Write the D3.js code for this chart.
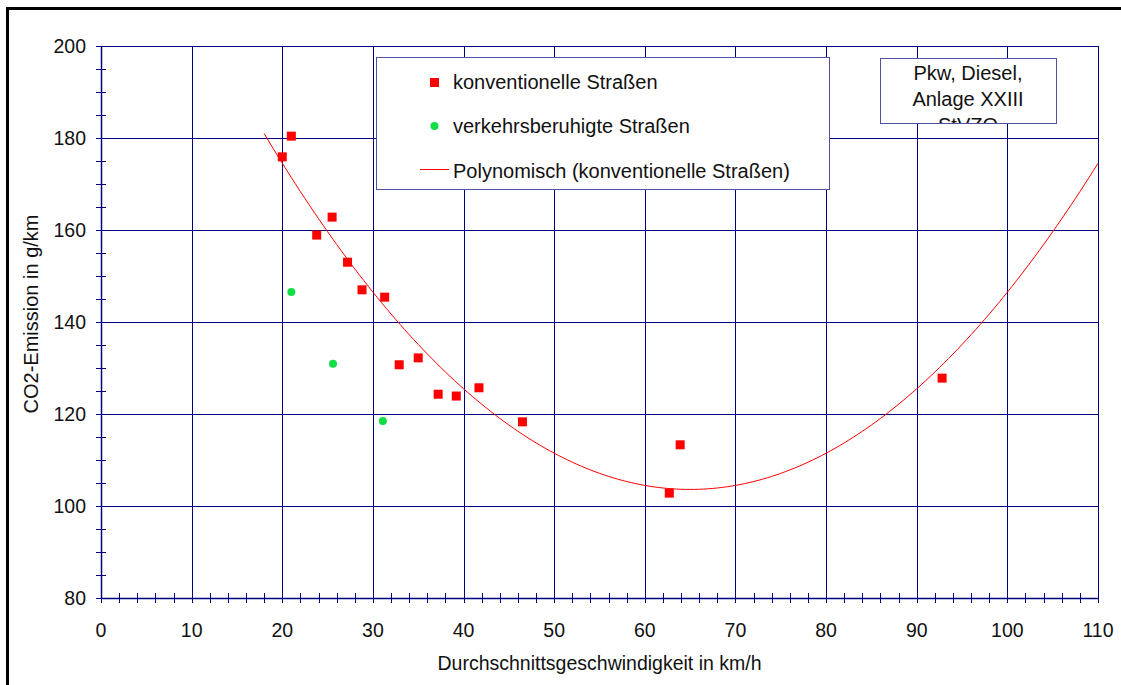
<!DOCTYPE html>
<html>
<head>
<meta charset="utf-8">
<script src="https://cdn.jsdelivr.net/npm/d3@7"></script>
<style>
  html, body { margin: 0; padding: 0; background: #fff; }
  svg { display: block; font-family: "Liberation Sans", Arial, sans-serif; }
</style>
</head>
<body>
<svg id="chart" width="1121" height="685"></svg>
<script>
// ---- data ----
const convX = [20.0, 21.0, 23.8, 25.5, 27.2, 28.8, 31.3, 32.9, 35.0, 37.2, 39.2, 41.7, 46.5, 62.7, 63.9, 92.8];
const convY = [175.9, 180.4, 158.9, 162.8, 153.0, 147.0, 145.4, 130.7, 132.2, 124.3, 123.9, 125.7, 118.3, 102.8, 113.3, 127.8];
const calmX = [21.0, 25.6, 31.1];
const calmY = [146.5, 130.9, 118.5];
const xTicks = [0, 10, 20, 30, 40, 50, 60, 70, 80, 90, 100, 110];
const yTicks = [80, 100, 120, 140, 160, 180, 200];
const trendRange = [18, 110];
const seriesNames = ["konventionelle Straßen", "verkehrsberuhigte Straßen", "Polynomisch (konventionelle Straßen)"];
const noteLines = ["Pkw, Diesel,", "Anlage XXIII", "StVZO"];
const xTitle = "Durchschnittsgeschwindigkeit in km/h";
const yTitle = "CO2-Emission in g/km";

// ---- layout ----
const L = 101, R = 1098, T = 46, B = 598;
const navy = "#000080";
const txt = "#111";
const svg = d3.select("#chart");
const x = d3.scaleLinear().domain([0, 110]).range([L, R]);
const y = d3.scaleLinear().domain([80, 200]).range([B, T]);
const px = v => Math.round(v) + 0.5;

// frame
svg.append("line").attr("x1", 6).attr("x2", 1121).attr("y1", 8.5).attr("y2", 8.5)
  .attr("stroke", "#000").attr("stroke-width", 3);
svg.append("line").attr("x1", 7.5).attr("x2", 7.5).attr("y1", 7).attr("y2", 685)
  .attr("stroke", "#000").attr("stroke-width", 3);

// grid
const g = svg.append("g");
g.selectAll(".vg").data(xTicks).join("line")
  .attr("x1", d => px(x(d))).attr("x2", d => px(x(d)))
  .attr("y1", T).attr("y2", B).attr("stroke", navy).attr("stroke-width", 1);
g.selectAll(".hg").data(yTicks).join("line")
  .attr("y1", d => px(y(d))).attr("y2", d => px(y(d)))
  .attr("x1", L).attr("x2", R).attr("stroke", navy).attr("stroke-width", 1);

// axes with minor ticks
const xMinor = d3.range(0, 110.01, 2);
const yMinor = d3.range(80, 200.01, 5);
g.selectAll(".xt").data(xMinor).join("line")
  .attr("x1", d => px(x(d))).attr("x2", d => px(x(d)))
  .attr("y1", B - 5).attr("y2", B + 5).attr("stroke", navy);
g.selectAll(".yt").data(yMinor).join("line")
  .attr("y1", d => px(y(d))).attr("y2", d => px(y(d)))
  .attr("x1", L - 5).attr("x2", L + 5).attr("stroke", navy);
g.append("line").attr("x1", L).attr("x2", R).attr("y1", px(y(80))).attr("y2", px(y(80))).attr("stroke", navy).attr("stroke-width", 1.5);
g.append("line").attr("x1", px(x(0))).attr("x2", px(x(0))).attr("y1", T).attr("y2", B).attr("stroke", navy).attr("stroke-width", 1.5);

// tick labels
svg.selectAll(".xl").data(xTicks).join("text")
  .attr("x", d => x(d)).attr("y", 637).attr("text-anchor", "middle")
  .attr("font-size", 19.5).attr("fill", txt).text(d => d);
svg.selectAll(".yl").data(yTicks).join("text")
  .attr("x", 86).attr("y", d => y(d) + 7).attr("text-anchor", "end")
  .attr("font-size", 19.5).attr("fill", txt).text(d => d);

// titles
svg.append("text").attr("x", (L + R) / 2).attr("y", 670).attr("text-anchor", "middle")
  .attr("font-size", 19.5).attr("fill", txt).text(xTitle);
svg.append("text").attr("transform", `translate(38,314) rotate(-90)`)
  .attr("text-anchor", "middle").attr("font-size", 20)
  .attr("fill", txt).text(yTitle);

// polynomial (2nd order) least-squares fit of conventional data
function polyfit2(xs, ys) {
  const n = xs.length;
  let s = [0, 0, 0, 0, 0], t = [0, 0, 0];
  for (let i = 0; i < n; i++) {
    for (let k = 0; k < 5; k++) s[k] += Math.pow(xs[i], k);
    for (let k = 0; k < 3; k++) t[k] += ys[i] * Math.pow(xs[i], k);
  }
  const M = [[s[0], s[1], s[2], t[0]], [s[1], s[2], s[3], t[1]], [s[2], s[3], s[4], t[2]]];
  for (let c = 0; c < 3; c++) {
    for (let r = c + 1; r < 3; r++) {
      const f = M[r][c] / M[c][c];
      for (let k = c; k < 4; k++) M[r][k] -= f * M[c][k];
    }
  }
  const a = [0, 0, 0];
  for (let r = 2; r >= 0; r--) {
    let v = M[r][3];
    for (let k = r + 1; k < 3; k++) v -= M[r][k] * a[k];
    a[r] = v / M[r][r];
  }
  return a;
}
const coef = polyfit2(convX, convY);
const trendX = d3.range(trendRange[0], trendRange[1] + 0.001, 0.5);
const line = d3.line().x(d => x(d)).y(d => y(coef[0] + coef[1] * d + coef[2] * d * d)).curve(d3.curveLinear);
svg.append("path").datum(trendX).attr("d", line).attr("fill", "none")
  .attr("stroke", "#ff0000").attr("stroke-width", 1);

// points
const conv = convX.map((v, i) => [v, convY[i]]);
const calm = calmX.map((v, i) => [v, calmY[i]]);
svg.selectAll(".cv").data(conv).join("rect")
  .attr("x", d => x(d[0]) - 4.5).attr("y", d => y(d[1]) - 4.5)
  .attr("width", 9).attr("height", 9).attr("fill", "#ff0000");
svg.selectAll(".cl").data(calm).join("circle")
  .attr("cx", d => x(d[0])).attr("cy", d => y(d[1])).attr("r", 4).attr("fill", "#11dd44");

// legend
const lg = svg.append("g");
lg.append("rect").attr("x", 376.5).attr("y", 57.5).attr("width", 453).attr("height", 132)
  .attr("fill", "#fff").attr("stroke", "#5050a0").attr("stroke-width", 1);
lg.append("rect").attr("x", 430).attr("y", 78).attr("width", 9).attr("height", 9).attr("fill", "#ff0000");
lg.append("circle").attr("cx", 434.5).attr("cy", 126).attr("r", 4).attr("fill", "#11dd44");
lg.append("line").attr("x1", 420).attr("x2", 449).attr("y1", 169.5).attr("y2", 169.5).attr("stroke", "#ff0000");
const ly = [89, 133, 178];
seriesNames.forEach((s, i) => {
  lg.append("text").attr("x", 453).attr("y", ly[i]).attr("font-size", 20).attr("fill", txt).text(s);
});

// note box (text clipped at bottom)
const defs = svg.append("defs");
defs.append("clipPath").attr("id", "noteclip").append("rect")
  .attr("x", 880).attr("y", 58).attr("width", 177).attr("height", 65);
const ng = svg.append("g");
ng.append("rect").attr("x", 880.5).attr("y", 58.5).attr("width", 176).attr("height", 65)
  .attr("fill", "#fff").attr("stroke", "#5050a0").attr("stroke-width", 1);
const nt = ng.append("g").attr("clip-path", "url(#noteclip)");
noteLines.forEach((s, i) => {
  nt.append("text").attr("x", 968).attr("y", 80 + i * 26).attr("text-anchor", "middle")
    .attr("font-size", 20).attr("fill", txt).text(s);
});
</script>
</body>
</html>
